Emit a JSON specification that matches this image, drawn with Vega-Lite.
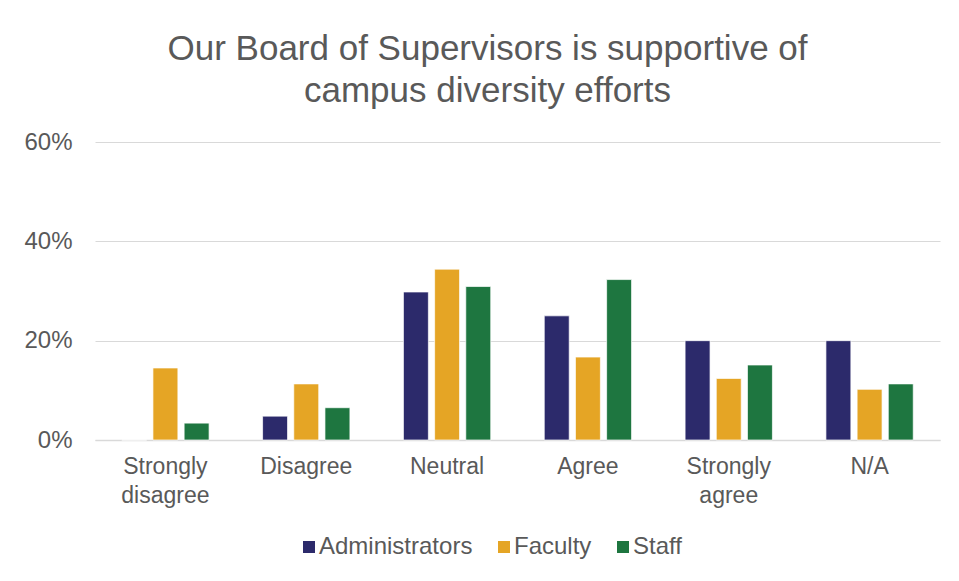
{
  "$schema": "https://vega.github.io/schema/vega-lite/v6.json",
  "autosize": "none",
  "width": 845,
  "height": 298,
  "padding": {"left": 95, "top": 142, "right": 19, "bottom": 141},
  "background": "white",
  "title": {
    "text": ["Our Board of Supervisors is supportive of", "campus diversity efforts"],
    "fontSize": 35,
    "font": "Liberation Sans",
    "fontWeight": "normal",
    "color": "#595959",
    "lineHeight": 42,
    "anchor": "middle",
    "dx": -30,
    "offset": 21
  },
  "data": {
    "values": [
      {"response": "Strongly disagree", "group": "Administrators", "value": 0},
      {"response": "Strongly disagree", "group": "Faculty", "value": 0.145},
      {"response": "Strongly disagree", "group": "Staff", "value": 0.034},
      {"response": "Disagree", "group": "Administrators", "value": 0.048},
      {"response": "Disagree", "group": "Faculty", "value": 0.113},
      {"response": "Disagree", "group": "Staff", "value": 0.065},
      {"response": "Neutral", "group": "Administrators", "value": 0.298},
      {"response": "Neutral", "group": "Faculty", "value": 0.344},
      {"response": "Neutral", "group": "Staff", "value": 0.309},
      {"response": "Agree", "group": "Administrators", "value": 0.25},
      {"response": "Agree", "group": "Faculty", "value": 0.167},
      {"response": "Agree", "group": "Staff", "value": 0.323},
      {"response": "Strongly agree", "group": "Administrators", "value": 0.2},
      {"response": "Strongly agree", "group": "Faculty", "value": 0.124},
      {"response": "Strongly agree", "group": "Staff", "value": 0.151},
      {"response": "N/A", "group": "Administrators", "value": 0.2},
      {"response": "N/A", "group": "Faculty", "value": 0.102},
      {"response": "N/A", "group": "Staff", "value": 0.113}
    ]
  },
  "mark": {"type": "bar", "stroke": "white", "strokeWidth": 0.7},
  "encoding": {
    "x": {
      "field": "response",
      "type": "nominal",
      "sort": ["Strongly disagree", "Disagree", "Neutral", "Agree", "Strongly agree", "N/A"],
      "scale": {"paddingInner": 0.38, "paddingOuter": 0.19},
      "axis": {
        "title": null,
        "labelAngle": 0,
        "labelExpr": "datum.value == 'Strongly disagree' ? ['Strongly', 'disagree'] : datum.value == 'Strongly agree' ? ['Strongly', 'agree'] : datum.value",
        "labelFont": "Liberation Sans",
        "labelFontSize": 23,
        "labelColor": "#595959",
        "labelLineHeight": 29,
        "labelPadding": 15,
        "ticks": false,
        "domainColor": "#d9d9d9",
        "domainWidth": 1.5,
        "grid": false
      }
    },
    "xOffset": {
      "field": "group",
      "type": "nominal",
      "scale": {"paddingInner": 0.2}
    },
    "y": {
      "field": "value",
      "type": "quantitative",
      "scale": {"domain": [0, 0.6]},
      "axis": {
        "title": null,
        "format": ".0%",
        "values": [0, 0.2, 0.4, 0.6],
        "labelFont": "Liberation Sans",
        "labelFontSize": 24,
        "labelColor": "#595959",
        "labelPadding": 23,
        "ticks": false,
        "domain": false,
        "gridColor": "#d9d9d9",
        "gridWidth": 1.2
      }
    },
    "color": {
      "field": "group",
      "type": "nominal",
      "scale": {
        "domain": ["Administrators", "Faculty", "Staff"],
        "range": ["#2c2a6b", "#e5a525", "#1e7640"]
      },
      "legend": {
        "title": null,
        "orient": "none",
        "legendX": 202,
        "legendY": 393,
        "direction": "horizontal",
        "symbolType": "square",
        "symbolSize": 144,
        "symbolStrokeWidth": 0,
        "labelFont": "Liberation Sans",
        "labelFontSize": 24,
        "labelColor": "#595959",
        "columnPadding": 19,
        "labelOffset": -2
      }
    }
  },
  "config": {"view": {"stroke": null}}
}
